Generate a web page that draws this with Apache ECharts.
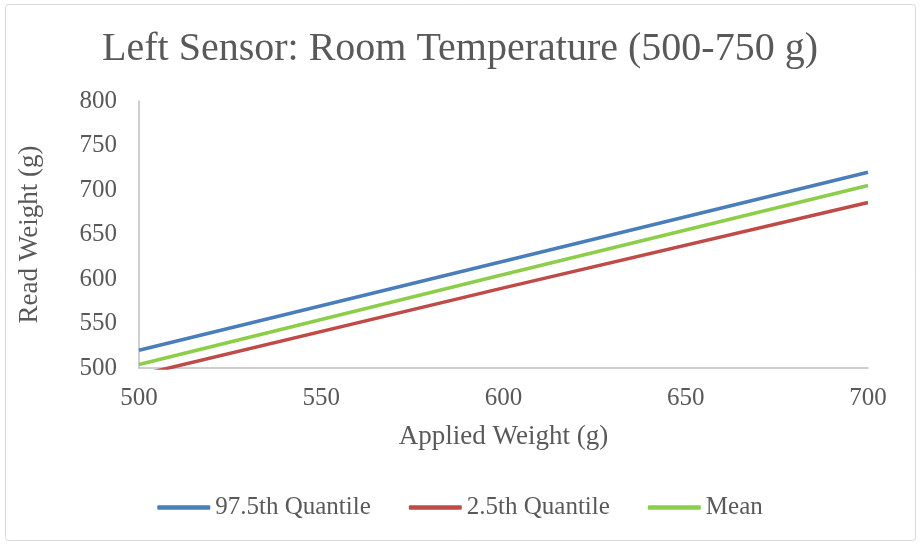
<!DOCTYPE html>
<html>
<head>
<meta charset="utf-8">
<script src="https://cdn.jsdelivr.net/npm/echarts@6/dist/echarts.min.js"></script>
<style>
html,body{margin:0;padding:0;background:#fff;}
#chart{width:920px;height:546px;}
</style>
</head>
<body>
<div id="chart"></div>
<script>
const appliedWeight = [500, 600, 700];
const upperQuantile = [520, 620, 720];
const lowerQuantile = [492, 590, 686];
const meanValues = [504, 605, 705];
const seriesNames = ['97.5th Quantile', '2.5th Quantile', 'Mean'];
const seriesColors = ['#4a7ebb', '#be4b48', '#8cce4a'];

const FONT = 'Liberation Serif';
const TXT = '#595959';

function pairs(ys) { return appliedWeight.map((x, i) => [x, ys[i]]); }

const chart = echarts.init(document.getElementById('chart'), null, {renderer: 'canvas'});
chart.setOption({
  animation: false,
  backgroundColor: '#fff',
  title: {
    text: 'Left Sensor: Room Temperature (500-750 g)',
    left: 'center', top: 24,
    textStyle: {fontFamily: FONT, fontSize: 40, fontWeight: 'normal', color: TXT}
  },
  graphic: [{
    type: 'rect', shape: {x: 5.5, y: 4.5, width: 910, height: 536, r: 3},
    style: {fill: 'none', stroke: '#d9d9d9', lineWidth: 1}, silent: true
  }],
  legend: {
    top: 490, left: 'center', itemGap: 38, itemWidth: 53, itemHeight: 4.5,
    textStyle: {fontFamily: FONT, fontSize: 25, color: TXT},
    data: seriesNames.map(n => ({name: n, icon: 'roundRect'}))
  },
  grid: {left: 139, right: 52, top: 101, bottom: 178},
  xAxis: {
    type: 'value', min: 500, max: 700, interval: 50,
    name: 'Applied Weight (g)', nameLocation: 'middle', nameGap: 55,
    nameTextStyle: {fontFamily: FONT, fontSize: 27, color: TXT},
    axisLine: {show: true, lineStyle: {color: '#bfbfbf', width: 1.5}},
    axisTick: {show: false},
    splitLine: {show: false},
    axisLabel: {fontFamily: FONT, fontSize: 25, color: TXT, margin: 18}
  },
  yAxis: {
    type: 'value', min: 500, max: 800, interval: 50,
    name: 'Read Weight (g)', nameLocation: 'middle', nameGap: 96, nameRotate: 90,
    nameTextStyle: {fontFamily: FONT, fontSize: 27, color: TXT},
    axisLine: {show: true, lineStyle: {color: '#bfbfbf', width: 1.5}},
    axisTick: {show: false},
    splitLine: {show: false},
    axisLabel: {fontFamily: FONT, fontSize: 25, color: TXT, margin: 22}
  },
  series: [
    {name: seriesNames[0], data: pairs(upperQuantile)},
    {name: seriesNames[1], data: pairs(lowerQuantile)},
    {name: seriesNames[2], data: pairs(meanValues)}
  ].map((s, i) => Object.assign(s, {
    type: 'line', showSymbol: false, symbol: 'none', clip: true,
    color: seriesColors[i],
    lineStyle: {color: seriesColors[i], width: 3.5}
  }))
});
</script>
</body>
</html>
